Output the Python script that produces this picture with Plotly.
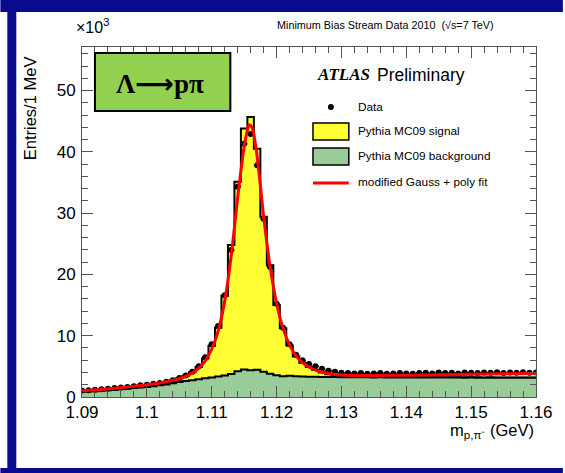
import plotly.graph_objects as go

# ---------------- data (values in units of 10^3 entries) ----------------
mass = [round(1.090 + 0.001 * i, 3) for i in range(71)]

data_vals = [1.05, 1.10, 1.20, 1.25, 1.35, 1.45, 1.55, 1.65, 1.75, 1.90,
             2.00, 2.15, 2.30, 2.50, 2.75, 3.10, 3.50, 4.10, 5.00, 6.50,
             8.60, 11.6, 16.6, 24.0, 34.3, 41.3, 42.9, 37.8, 29.1, 21.2,
             15.2, 11.3, 8.6, 6.9, 6.0, 5.4, 5.0, 4.6, 4.3, 4.1,
             3.95, 3.90, 3.85, 3.90, 3.80, 3.85, 3.90, 3.80, 3.85, 3.90,
             3.85, 3.80, 3.90, 3.95, 3.85, 4.00, 3.90, 3.95, 3.85, 4.00,
             3.95, 3.90, 4.00, 3.95, 4.05, 3.90, 4.00, 3.95, 4.05, 3.95, 4.00]

mc_total = [1.00, 1.05, 1.15, 1.20, 1.30, 1.40, 1.50, 1.60, 1.70, 1.85,
            1.95, 2.10, 2.25, 2.45, 2.70, 3.05, 3.45, 4.05, 4.90, 6.30,
            8.30, 11.3, 16.5, 24.8, 35.1, 43.8, 45.7, 40.5, 29.4, 21.5,
            15.0, 11.2, 8.4, 6.6, 5.6, 4.9, 4.4, 4.0, 3.7, 3.5,
            3.40, 3.35, 3.30, 3.28, 3.27, 3.26, 3.27, 3.25, 3.26, 3.25,
            3.24, 3.25, 3.24, 3.23, 3.24, 3.23, 3.22, 3.23, 3.22, 3.21,
            3.22, 3.21, 3.20, 3.21, 3.20, 3.19, 3.20, 3.19, 3.18, 3.19, 3.18]

mc_bkg = [0.85, 0.90, 0.95, 1.00, 1.10, 1.15, 1.25, 1.35, 1.45, 1.55,
          1.65, 1.75, 1.90, 2.05, 2.25, 2.45, 2.60, 2.75, 2.90, 3.05,
          3.20, 3.35, 3.50, 3.75, 4.20, 4.50, 4.35, 4.45, 4.10, 3.80,
          3.55, 3.40, 3.45, 3.40, 3.35, 3.30, 3.30, 3.25, 3.25, 3.25,
          3.22, 3.22, 3.21, 3.22, 3.21, 3.20, 3.21, 3.20, 3.20, 3.19,
          3.19, 3.20, 3.19, 3.18, 3.19, 3.18, 3.17, 3.18, 3.17, 3.16,
          3.17, 3.16, 3.15, 3.16, 3.15, 3.14, 3.15, 3.14, 3.13, 3.14, 3.13]

fit_x = [1.090, 1.095, 1.100, 1.103, 1.105, 1.107, 1.108, 1.109, 1.110, 1.111,
         1.112, 1.113, 1.114, 1.115, 1.1155, 1.1158, 1.1162, 1.1168, 1.1175, 1.118,
         1.119, 1.120, 1.121, 1.122, 1.123, 1.124, 1.125, 1.126, 1.127, 1.128,
         1.130, 1.133, 1.140, 1.150, 1.160]
fit_y = [1.00, 1.42, 1.98, 2.50, 3.00, 3.90, 4.70, 5.90, 7.80, 10.8,
         15.6, 23.0, 32.5, 40.8, 43.5, 44.4, 44.0, 40.8, 34.5, 29.5,
         21.3, 15.3, 11.2, 8.5, 6.7, 5.6, 4.9, 4.4, 4.1, 3.85,
         3.60, 3.50, 3.55, 3.70, 3.85]

x_tickvals = [1.09, 1.10, 1.11, 1.12, 1.13, 1.14, 1.15, 1.16]
x_ticktext = ["1.09", "1.1", "1.11", "1.12", "1.13", "1.14", "1.15", "1.16"]
y_tickvals = [0, 10, 20, 30, 40, 50]
y_ticktext = ["0", "10", "20", "30", "40", "50"]

# ---------------- layout geometry helpers ----------------
W, H = 565, 473
L, R, T, B = 82, 538, 47, 397


def px(x):
    return (x - L) / (R - L)


def py(y):
    return (B - y) / (B - T)


SANS = "Liberation Sans, Arial, sans-serif"
SERIF = "Liberation Serif, Times New Roman, serif"
YELLOW = "#FFFF33"
GREEN = "#99CC99"
NAVY = "#0A0A8E"

fig = go.Figure()

fig.add_trace(go.Scatter(x=mass, y=mc_total, mode="lines", line_shape="hvh",
                         line=dict(color="black", width=2), fill="tozeroy",
                         fillcolor=YELLOW, showlegend=False, hoverinfo="skip"))
fig.add_trace(go.Scatter(x=mass, y=mc_bkg, mode="lines", line_shape="hvh",
                         line=dict(color="black", width=2), fill="tozeroy",
                         fillcolor=GREEN, showlegend=False, hoverinfo="skip"))
fig.add_trace(go.Scatter(x=mass, y=data_vals, mode="markers",
                         marker=dict(color="black", size=6),
                         error_x=dict(type="constant", value=0.0005, color="black",
                                      thickness=1.5, width=0),
                         showlegend=False))
fig.add_trace(go.Scatter(x=fit_x, y=fit_y, mode="lines", line_shape="spline",
                         line=dict(color="#FF0000", width=3), showlegend=False))

shapes = []
# blue frame
shapes.append(dict(type="rect", xref="paper", yref="paper", x0=px(0), x1=px(W),
                   y0=py(0), y1=py(12), fillcolor=NAVY, line_width=0, layer="above"))
shapes.append(dict(type="rect", xref="paper", yref="paper", x0=px(7), x1=px(16),
                   y0=py(0), y1=py(H), fillcolor=NAVY, line_width=0, layer="above"))
shapes.append(dict(type="rect", xref="paper", yref="paper", x0=px(0), x1=px(W),
                   y0=py(468), y1=py(H), fillcolor=NAVY, line_width=0, layer="above"))
# green label box
shapes.append(dict(type="rect", xref="paper", yref="paper", x0=px(95), x1=px(231),
                   y0=py(111), y1=py(53), fillcolor="#92D050",
                   line=dict(color="black", width=2), layer="above"))
# legend symbols
shapes.append(dict(type="circle", xref="paper", yref="paper", x0=px(329), x1=px(335),
                   y0=py(110), y1=py(104), fillcolor="black", line_width=0, layer="above"))
shapes.append(dict(type="rect", xref="paper", yref="paper", x0=px(314), x1=px(350),
                   y0=py(140), y1=py(123), fillcolor=YELLOW,
                   line=dict(color="black", width=1.5), layer="above"))
shapes.append(dict(type="rect", xref="paper", yref="paper", x0=px(314), x1=px(350),
                   y0=py(165), y1=py(148), fillcolor=GREEN,
                   line=dict(color="black", width=1.5), layer="above"))
shapes.append(dict(type="line", xref="paper", yref="paper", x0=px(314), x1=px(350),
                   y0=py(183), y1=py(183), line=dict(color="#FF0000", width=3), layer="above"))

ann = []


def add_text(text, x, y, size, xanchor="left", family=SANS, angle=0, yanchor="middle"):
    ann.append(dict(text=text, xref="paper", yref="paper", x=px(x), y=py(y),
                    xanchor=xanchor, yanchor=yanchor, showarrow=False, textangle=angle,
                    font=dict(family=family, size=size, color="black")))


add_text("×10<sup>3</sup>", 74, 26, 16)
add_text("Minimum Bias Stream Data 2010  (√s=7 TeV)", 498, 25, 10.8, xanchor="right")
add_text("<b>Λ<span style=\"font-family:DejaVu Sans\">⟶</span>pπ</b>", 160, 83, 27,
         xanchor="center", family=SERIF)
add_text("<b><i>ATLAS</i></b>", 316, 75, 17, family=SERIF)
add_text("Preliminary", 376, 75, 17.5)
add_text("Data", 357, 107, 11.8)
add_text("Pythia MC09 signal", 357, 131, 11.8)
add_text("Pythia MC09 background", 357, 156, 11.8)
add_text("modified Gauss + poly fit", 357, 182, 11.8)
add_text("m<sub>p,π⁻</sub> (GeV)", 538, 431, 16.5, xanchor="right")
add_text("Entries/1 MeV", 30, 108, 16.5, xanchor="center", angle=-90)

axis_common = dict(showgrid=False, zeroline=False, showline=True, linecolor="#555555",
                   linewidth=1, mirror="ticks", ticks="inside", tickcolor="#555555",
                   ticklen=11, tickwidth=1,
                   tickfont=dict(family=SANS, size=17, color="black"))

fig.update_layout(
    width=W, height=H,
    margin=dict(l=L, r=W - R, t=T, b=H - B),
    paper_bgcolor="white", plot_bgcolor="white",
    xaxis=dict(range=[1.09, 1.16], tickmode="array", tickvals=x_tickvals,
               ticktext=x_ticktext,
               minor=dict(tickmode="linear", tick0=1.09, dtick=0.002, ticks="inside",
                          ticklen=6, tickcolor="#555555"),
               **axis_common),
    yaxis=dict(range=[0, 57.1], tickmode="array", tickvals=y_tickvals,
               ticktext=y_ticktext, ticklabelstandoff=2,
               minor=dict(tickmode="linear", tick0=0, dtick=2, ticks="inside",
                          ticklen=6, tickcolor="#555555"),
               **axis_common),
    shapes=shapes,
    annotations=ann,
    showlegend=False,
)

fig.write_html("out.html")
